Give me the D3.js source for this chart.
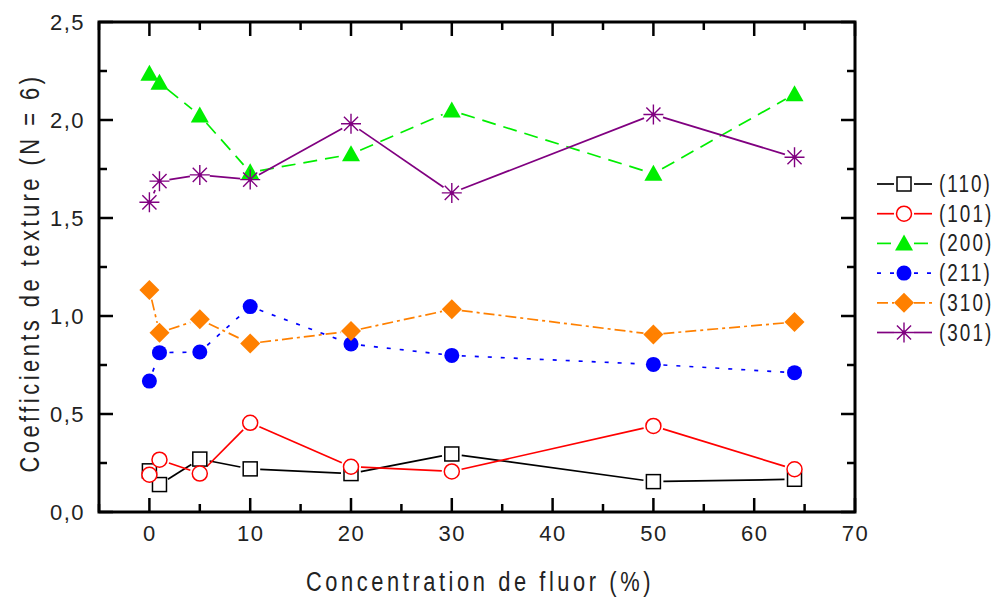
<!DOCTYPE html>
<html><head><meta charset="utf-8">
<script src="https://cdn.jsdelivr.net/npm/d3@7"></script>
<style>
html,body{margin:0;padding:0;background:#fff;}
svg{display:block;}
text{font-family:"Liberation Sans",sans-serif;fill:#222;}
</style></head>
<body>
<svg id="c" width="997" height="597"></svg>
<script>
// ---- data ----
const concentrations = [0, 1, 5, 10, 20, 30, 50, 64];
const seriesNames = ["(110)", "(101)", "(200)", "(211)", "(310)", "(301)"];
const s110 = [0.21, 0.14, 0.27, 0.22, 0.196, 0.296, 0.155, 0.167];
const s101 = [0.19, 0.267, 0.196, 0.455, 0.231, 0.207, 0.439, 0.218];
const s200 = [2.236, 2.19, 2.023, 1.733, 1.825, 2.048, 1.726, 2.132];
const s211 = [0.668, 0.813, 0.816, 1.048, 0.857, 0.799, 0.753, 0.711];
const s310 = [1.133, 0.915, 0.983, 0.860, 0.923, 1.034, 0.906, 0.969];
const s301 = [1.58, 1.688, 1.72, 1.696, 1.981, 1.628, 2.028, 1.81];
const xTicks = [0, 10, 20, 30, 40, 50, 60, 70];
const yTicks = [0, 0.5, 1.0, 1.5, 2.0, 2.5];
const xTitle = "Concentration de fluor (%)";
const yTitle = "Coefficients de texture (N = 6)";

const styles = [
  {color:"#000000", dash:null, marker:"square"},
  {color:"#ff0000", dash:null, marker:"ocircle"},
  {color:"#00ee00", dash:"14,8", marker:"triangle"},
  {color:"#0000ff", dash:"4,9", marker:"fcircle"},
  {color:"#ff8000", dash:"11,4,3,4", marker:"diamond"},
  {color:"#800080", dash:null, marker:"star"}
];
const allSeries = [s110, s101, s200, s211, s310, s301];

const svg = d3.select("#c");
const L = 99, R = 855, T = 22, B = 512;
const x = d3.scaleLinear().domain([-5, 70]).range([L, R]);
const y = d3.scaleLinear().domain([0, 2.5]).range([B, T]);
const fmt = v => d3.format(".1f")(v).replace(".", ",");

// ---- data lines (shortened near markers) ----
const gap = 10;
function segs(pts){
  const out = [];
  for (let i = 0; i < pts.length - 1; i++){
    const [x1,y1] = pts[i], [x2,y2] = pts[i+1];
    const d = Math.hypot(x2-x1, y2-y1);
    if (d <= 2*gap + 1) continue;
    const ux = (x2-x1)/d, uy = (y2-y1)/d;
    out.push([x1+ux*gap, y1+uy*gap, x2-ux*gap, y2-uy*gap]);
  }
  return out;
}
function drawMarker(g, type, cx, cy, color){
  if (type === "square"){
    g.append("rect").attr("x", cx-7).attr("y", cy-7).attr("width", 14).attr("height", 14)
      .attr("fill", "#fff").attr("stroke", color).attr("stroke-width", 1.5);
  } else if (type === "ocircle"){
    g.append("circle").attr("cx", cx).attr("cy", cy).attr("r", 7.5)
      .attr("fill", "#fff").attr("stroke", color).attr("stroke-width", 1.5);
  } else if (type === "fcircle"){
    g.append("circle").attr("cx", cx).attr("cy", cy).attr("r", 7.5).attr("fill", color);
  } else if (type === "triangle"){
    g.append("path").attr("d", `M${cx},${cy-9}L${cx+9},${cy+7}L${cx-9},${cy+7}Z`).attr("fill", color);
  } else if (type === "diamond"){
    g.append("path").attr("d", `M${cx},${cy-10}L${cx+10},${cy}L${cx},${cy+10}L${cx-10},${cy}Z`).attr("fill", color);
  } else if (type === "star"){
    const r = 10, a = r*Math.SQRT1_2;
    g.append("path").attr("d", `M${cx-r},${cy}L${cx+r},${cy}M${cx},${cy-r}L${cx},${cy+r}M${cx-a},${cy-a}L${cx+a},${cy+a}M${cx-a},${cy+a}L${cx+a},${cy-a}`)
      .attr("stroke", color).attr("stroke-width", 1.4).attr("fill", "none");
    g.append("circle").attr("cx", cx).attr("cy", cy).attr("r", 2).attr("fill", color);
  }
}

const plot = svg.append("g");
allSeries.forEach((vals, si) => {
  const st = styles[si];
  const pts = concentrations.map((c, i) => [x(c), y(vals[i])]);
  segs(pts).forEach(s => {
    plot.append("line").attr("x1", s[0]).attr("y1", s[1]).attr("x2", s[2]).attr("y2", s[3])
      .attr("stroke", st.color).attr("stroke-width", 1.7)
      .attr("stroke-dasharray", st.dash);
  });
});
allSeries.forEach((vals, si) => {
  const st = styles[si];
  concentrations.forEach((c, i) => drawMarker(plot, st.marker, x(c), y(vals[i]), st.color));
});

// ---- axes frame with inward ticks ----
const ax = svg.append("g");
const xMinor = d3.range(-5, 71, 5).filter(v => v % 10 !== 0);
const yMinor = d3.range(0.25, 2.5, 0.5);
const tickW = 2.5;
function tl(x1,y1,x2,y2){ ax.append("line").attr("x1",x1).attr("y1",y1).attr("x2",x2).attr("y2",y2).attr("stroke","#000").attr("stroke-width",tickW); }
xTicks.forEach(v => { tl(x(v), B, x(v), B-14); tl(x(v), T, x(v), T+14); });
xMinor.forEach(v => { tl(x(v), B, x(v), B-8); tl(x(v), T, x(v), T+8); });
yTicks.forEach(v => { tl(L, y(v), L+14, y(v)); tl(R, y(v), R-14, y(v)); });
yMinor.forEach(v => { tl(L, y(v), L+8, y(v)); tl(R, y(v), R-8, y(v)); });
ax.append("rect").attr("x", L).attr("y", T).attr("width", R-L).attr("height", B-T)
  .attr("fill", "none").attr("stroke", "#000").attr("stroke-width", 3);

// tick labels using d3 axis generators
const xAxis = d3.axisBottom(x).tickValues(xTicks).tickSize(0).tickPadding(13).tickFormat(d3.format("d"));
const gx = svg.append("g").attr("transform", `translate(0,${B})`).call(xAxis);
gx.select(".domain").remove();
gx.selectAll("text").attr("font-size", 22).attr("fill", "#222")
  .style("font-family", '"Liberation Sans",sans-serif').attr("letter-spacing", 1.5);

const yAxis = d3.axisLeft(y).tickValues(yTicks).tickSize(0).tickPadding(14).tickFormat(fmt);
const gy = svg.append("g").attr("transform", `translate(${L},0)`).call(yAxis);
gy.select(".domain").remove();
gy.selectAll("text").attr("font-size", 22).attr("fill", "#222")
  .style("font-family", '"Liberation Sans",sans-serif').attr("letter-spacing", 1.5);

// axis titles (narrow, spaced look)
svg.append("g").attr("transform", `translate(${(L+R)/2 + 3},591) scale(0.78,1)`)
  .append("text").attr("x", 0).attr("y", 0).attr("text-anchor", "middle")
  .attr("font-size", 28).attr("letter-spacing", 4.6).text(xTitle);
svg.append("g").attr("transform", `translate(39,${(T+B)/2 + 6}) rotate(-90) scale(0.78,1)`)
  .append("text").attr("x", 0).attr("y", 0).attr("text-anchor", "middle")
  .attr("font-size", 28).attr("letter-spacing", 4.5).text(yTitle);

// ---- legend ----
const leg = svg.append("g");
const legY0 = 184, legDy = 29.7;
seriesNames.forEach((name, i) => {
  const st = styles[i];
  const yy = legY0 + i*legDy;
  [[877, 894], [914, 932]].forEach(([a, b]) => {
    leg.append("line").attr("x1", a).attr("x2", b).attr("y1", yy).attr("y2", yy)
      .attr("stroke", st.color).attr("stroke-width", 1.7).attr("stroke-dasharray", st.dash);
  });
  drawMarker(leg, st.marker, 904, yy, st.color);
  leg.append("g").attr("transform", `translate(939,${yy + 8}) scale(0.82,1)`)
    .append("text").attr("x", 0).attr("y", 0).attr("font-size", 23).attr("letter-spacing", 2.5).text(name);
});
</script>
</body></html>
